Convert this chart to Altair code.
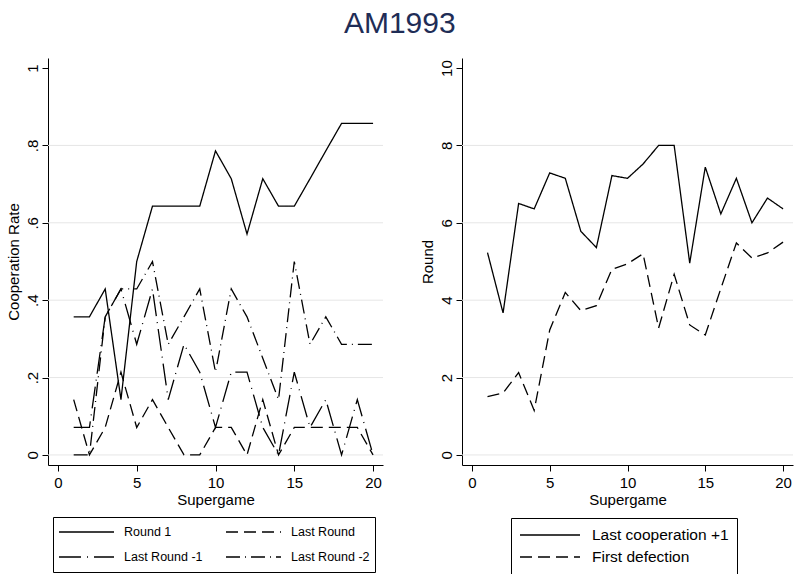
import altair as alt
import pandas as pd

FONT = "Liberation Sans"

# ---------------- data ----------------
supergame = list(range(1, 21))

left_series = ["Round 1", "Last Round -1", "Last Round", "Last Round -2"]
round1 = [0.357, 0.357, 0.429, 0.143, 0.5, 0.643, 0.643, 0.643, 0.643, 0.786,
          0.714, 0.571, 0.714, 0.643, 0.643, 0.714, 0.786, 0.857, 0.857, 0.857]
last_round = [0.143, 0.0, 0.071, 0.214, 0.071, 0.143, 0.071, 0.0, 0.0, 0.071,
              0.071, 0.0, 0.143, 0.0, 0.071, 0.071, 0.071, 0.071, 0.071, 0.0]
last_round_1 = [0.071, 0.071, 0.357, 0.429, 0.286, 0.429, 0.143, 0.286, 0.214, 0.071,
                0.214, 0.214, 0.071, 0.0, 0.214, 0.071, 0.143, 0.0, 0.143, 0.0]
last_round_2 = [0.0, 0.0, 0.357, 0.429, 0.429, 0.5, 0.286, 0.357, 0.429, 0.214,
                0.429, 0.357, 0.25, 0.143, 0.5, 0.286, 0.357, 0.286, 0.286, 0.286]

right_series = ["Last cooperation +1", "First defection"]
last_coop = [5.23, 3.67, 6.50, 6.36, 7.29, 7.15, 5.78, 5.36, 7.22, 7.15,
             7.52, 8.0, 8.0, 4.96, 7.44, 6.23, 7.15, 6.0, 6.64, 6.36]
first_def = [1.51, 1.60, 2.13, 1.15, 3.23, 4.20, 3.73, 3.86, 4.80, 4.94,
             5.20, 3.28, 4.67, 3.36, 3.10, 4.30, 5.48, 5.09, 5.22, 5.50]

left_ticks = [0, 0.2, 0.4, 0.6, 0.8, 1]
left_grid = [0, 0.2, 0.4, 0.6, 0.8]
right_ticks = [0, 2, 4, 6, 8, 10]
right_grid = [0, 2, 4, 6, 8]
x_ticks = [0, 5, 10, 15, 20]

left_rows = []
for name, vals in zip(["Round 1", "Last Round", "Last Round -1", "Last Round -2"],
                      [round1, last_round, last_round_1, last_round_2]):
    for sg, v in zip(supergame, vals):
        left_rows.append({"Supergame": sg, "value": v, "series": name})
left_df = pd.DataFrame(left_rows)

right_rows = []
for name, vals in zip(right_series, [last_coop, first_def]):
    for sg, v in zip(supergame, vals):
        right_rows.append({"Supergame": sg, "value": v, "series": name})
right_df = pd.DataFrame(right_rows)

# ---------------- styles ----------------
# order matches left_series (legend is filled column by column)
dash_left = [[1, 0], [22, 6, 1, 6], [12, 6], [14, 5, 1, 5]]
dash_right = [[1, 0], [12, 6]]
GRID = "#e6e6e6"
LW = 1.3

def x_enc(domain):
    return alt.X("Supergame:Q",
                 scale=alt.Scale(domain=domain, nice=False, zero=False),
                 axis=alt.Axis(values=x_ticks, title="Supergame", grid=False,
                               labelPadding=4, titlePadding=2, format="d"))

def y_axis(ticks, title, expr):
    return alt.Axis(values=ticks, title=title, grid=False, labelAngle=-90,
                    labelAlign="center", labelBaseline="bottom", labelPadding=2,
                    titlePadding=4, labelExpr=expr)

LEFT_EXPR = ("datum.value == 0 ? '0' : datum.value == 1 ? '1' : "
             "replace(format(datum.value, '.1f'), '0.', '.')")

# ---------------- left panel ----------------
yl_scale = alt.Scale(domain=[-0.026, 1.026], nice=False, zero=False)
grid_l = alt.Chart(pd.DataFrame({"g": left_grid})).mark_rule(
    color=GRID, strokeWidth=1).encode(
    y=alt.Y("g:Q", scale=yl_scale, axis=y_axis(left_ticks, "Cooperation Rate", LEFT_EXPR)))

lines_l = alt.Chart(left_df).mark_line(strokeWidth=LW, color="black").encode(
    x=x_enc([-0.63, 20.63]),
    y=alt.Y("value:Q", scale=yl_scale,
            axis=y_axis(left_ticks, "Cooperation Rate", LEFT_EXPR)),
    strokeDash=alt.StrokeDash("series:N",
                              scale=alt.Scale(domain=left_series, range=dash_left),
                              legend=alt.Legend(orient="none", legendX=5, legendY=459,
                                                columns=2, title=None,
                                                symbolType="stroke", symbolSize=3025,
                                                symbolStrokeWidth=LW, symbolStrokeColor="black",
                                                labelFontSize=12.5, labelFont=FONT,
                                                labelColor="black", labelOffset=9,
                                                columnPadding=22, rowPadding=5,
                                                clipHeight=20, padding=5,
                                                strokeColor="black")),
    order="Supergame:Q",
)

left = alt.layer(grid_l, lines_l).properties(width=335, height=407)

# ---------------- right panel ----------------
yr_scale = alt.Scale(domain=[-0.26, 10.26], nice=False, zero=False)
grid_r = alt.Chart(pd.DataFrame({"g": right_grid})).mark_rule(
    color=GRID, strokeWidth=1).encode(
    y=alt.Y("g:Q", scale=yr_scale, axis=y_axis(right_ticks, "Round", "datum.label")))

lines_r = alt.Chart(right_df).mark_line(strokeWidth=LW, color="black").encode(
    x=x_enc([-0.64, 20.64]),
    y=alt.Y("value:Q", scale=yr_scale,
            axis=y_axis(right_ticks, "Round", "datum.label")),
    strokeDash=alt.StrokeDash("series:N",
                              scale=alt.Scale(domain=right_series, range=dash_right),
                              legend=alt.Legend(orient="none", legendX=49, legendY=460,
                                                columns=1, title=None,
                                                symbolType="stroke", symbolSize=3600,
                                                symbolStrokeWidth=LW, symbolStrokeColor="black",
                                                labelFontSize=15.5, labelFont=FONT,
                                                labelColor="black", labelOffset=11,
                                                rowPadding=4, clipHeight=18, padding=8,
                                                strokeColor="black")),
    order="Supergame:Q",
)

right = alt.layer(grid_r, lines_r).properties(width=331, height=407)

chart = alt.hconcat(left, right, spacing=79, bounds="flush").resolve_scale(
    strokeDash="independent", x="independent", y="independent"
).resolve_legend(strokeDash="independent").properties(
    title=alt.TitleParams("AM1993", fontSize=30, font=FONT, color="#1f2d56",
                          fontWeight="normal", anchor="middle", offset=19),
    padding={"left": 6, "top": 9, "right": 0, "bottom": 0},
    background="white",
).configure_axis(
    labelFont=FONT, titleFont=FONT, labelFontSize=15, titleFontSize=15,
    labelColor="black", titleColor="black", titleFontWeight="normal",
    domainColor="black", tickColor="black", tickSize=6, domainWidth=1, tickWidth=1,
).configure_view(strokeWidth=0)

chart.save("out.html", embed_options={"renderer": "svg", "actions": False})
